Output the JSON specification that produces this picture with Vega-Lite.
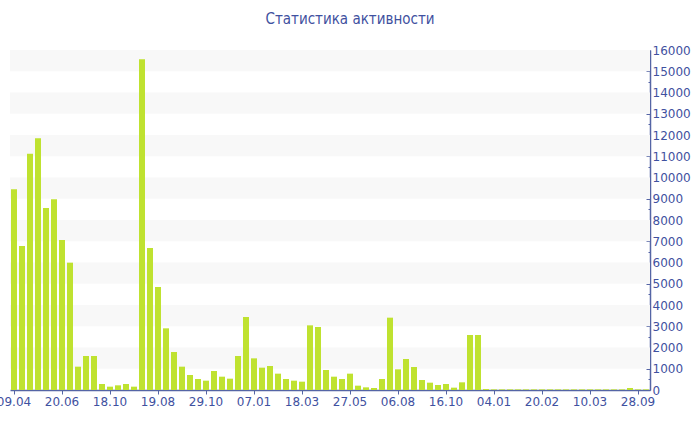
{
  "$schema": "https://vega.github.io/schema/vega-lite/v6.json",
  "width": 640,
  "height": 340,
  "autosize": {"type": "none"},
  "padding": {"left": 10, "top": 50, "right": 50, "bottom": 40},
  "background": "#ffffff",
  "title": {
    "text": "Статистика активности",
    "anchor": "middle",
    "dx": 20,
    "offset": 17,
    "font": "DejaVu Sans Condensed",
    "fontSize": 15,
    "fontWeight": "normal",
    "color": "#3f51a0"
  },
  "config": {
    "view": {"stroke": null},
    "axis": {
      "labelFont": "DejaVu Sans",
      "labelFontSize": 12,
      "labelColor": "#3f51a0",
      "domainColor": "#5565a5",
      "tickColor": "#5565a5",
      "titleColor": "#3f51a0"
    }
  },
  "datasets": {
    "bands": [
      {"lo": 1000, "hi": 2000},
      {"lo": 3000, "hi": 4000},
      {"lo": 5000, "hi": 6000},
      {"lo": 7000, "hi": 8000},
      {"lo": 9000, "hi": 10000},
      {"lo": 11000, "hi": 12000},
      {"lo": 13000, "hi": 14000},
      {"lo": 15000, "hi": 16000}
    ],
    "bars": [
      {"n": 0, "v": 9443}, {"n": 1, "v": 6776}, {"n": 2, "v": 11121}, {"n": 3, "v": 11843},
      {"n": 4, "v": 8565}, {"n": 5, "v": 8972}, {"n": 6, "v": 7059}, {"n": 7, "v": 5992},
      {"n": 8, "v": 1098}, {"n": 9, "v": 1600}, {"n": 10, "v": 1600}, {"n": 11, "v": 282},
      {"n": 12, "v": 157}, {"n": 13, "v": 220}, {"n": 14, "v": 282}, {"n": 15, "v": 157},
      {"n": 16, "v": 15560}, {"n": 17, "v": 6682}, {"n": 18, "v": 4847}, {"n": 19, "v": 2902},
      {"n": 20, "v": 1788}, {"n": 21, "v": 1098}, {"n": 22, "v": 706}, {"n": 23, "v": 518},
      {"n": 24, "v": 439}, {"n": 25, "v": 894}, {"n": 26, "v": 627}, {"n": 27, "v": 533},
      {"n": 28, "v": 1600}, {"n": 29, "v": 3435}, {"n": 30, "v": 1490}, {"n": 31, "v": 1051},
      {"n": 32, "v": 1129}, {"n": 33, "v": 769}, {"n": 34, "v": 518}, {"n": 35, "v": 439},
      {"n": 36, "v": 392}, {"n": 37, "v": 3043}, {"n": 38, "v": 2965}, {"n": 39, "v": 941},
      {"n": 40, "v": 627}, {"n": 41, "v": 518}, {"n": 42, "v": 769}, {"n": 43, "v": 204},
      {"n": 44, "v": 125}, {"n": 45, "v": 94}, {"n": 46, "v": 518}, {"n": 47, "v": 3404},
      {"n": 48, "v": 973}, {"n": 49, "v": 1459}, {"n": 50, "v": 1082}, {"n": 51, "v": 471},
      {"n": 52, "v": 345}, {"n": 53, "v": 235}, {"n": 54, "v": 282}, {"n": 55, "v": 110},
      {"n": 56, "v": 361}, {"n": 57, "v": 2588}, {"n": 58, "v": 2588}, {"n": 59, "v": 45},
      {"n": 60, "v": 30}, {"n": 61, "v": 30}, {"n": 62, "v": 30}, {"n": 63, "v": 30},
      {"n": 64, "v": 30}, {"n": 65, "v": 30}, {"n": 66, "v": 30}, {"n": 67, "v": 30},
      {"n": 68, "v": 30}, {"n": 69, "v": 30}, {"n": 70, "v": 30}, {"n": 71, "v": 30},
      {"n": 72, "v": 30}, {"n": 73, "v": 30}, {"n": 74, "v": 30}, {"n": 75, "v": 30},
      {"n": 76, "v": 30}, {"n": 77, "v": 94}, {"n": 78, "v": 30}, {"n": 79, "v": 30}
    ]
  },
  "layer": [
    {
      "data": {"name": "bands"},
      "mark": {"type": "rect", "color": "#f8f8f8"},
      "encoding": {
        "y": {
          "field": "lo",
          "type": "quantitative",
          "scale": {"domain": [0, 16000]},
          "axis": {
            "title": null,
            "orient": "right",
            "values": [0,500,1000,1500,2000,2500,3000,3500,4000,4500,5000,5500,6000,6500,7000,7500,8000,8500,9000,9500,10000,10500,11000,11500,12000,12500,13000,13500,14000,14500,15000,15500,16000],
            "labelExpr": "datum.value % 1000 == 0 ? datum.value : ''",
            "labelOverlap": false,
            "labelBound": false,
            "tickSize": {"expr": "datum.value % 1000 == 0 ? -4 : -2"},
            "labelPadding": 6,
            "domainWidth": 1.5,
            "grid": false
          }
        },
        "y2": {"field": "hi"}
      }
    },
    {
      "data": {"name": "bars"},
      "mark": {"type": "bar", "color": "#bfe230"},
      "encoding": {
        "x": {
          "field": "n",
          "type": "ordinal",
          "sort": null,
          "scale": {"paddingInner": 0.25, "paddingOuter": 0.125},
          "axis": {
            "title": null,
            "values": [0, 6, 12, 18, 24, 30, 36, 42, 48, 54, 60, 66, 72, 78],
            "labelExpr": "['09.04','20.06','18.10','19.08','29.10','07.01','18.03','27.05','06.08','16.10','04.01','20.02','10.03','28.09'][datum.value / 6]",
            "labelAngle": 0,
            "labelPadding": 2,
            "labelOverlap": false,
            "tickSize": 4,
            "domainWidth": 1.5,
            "grid": true,
            "gridColor": "#ffffff",
            "gridDash": [2, 2],
            "gridWidth": 1
          }
        },
        "y": {
          "field": "v",
          "type": "quantitative",
          "scale": {"domain": [0, 16000]},
          "axis": {
            "title": null,
            "orient": "right",
            "values": [0,500,1000,1500,2000,2500,3000,3500,4000,4500,5000,5500,6000,6500,7000,7500,8000,8500,9000,9500,10000,10500,11000,11500,12000,12500,13000,13500,14000,14500,15000,15500,16000],
            "labelExpr": "datum.value % 1000 == 0 ? datum.value : ''",
            "labelOverlap": false,
            "labelBound": false,
            "tickSize": {"expr": "datum.value % 1000 == 0 ? -4 : -2"},
            "labelPadding": 6,
            "domainWidth": 1.5,
            "grid": false
          }
        }
      }
    }
  ]
}
